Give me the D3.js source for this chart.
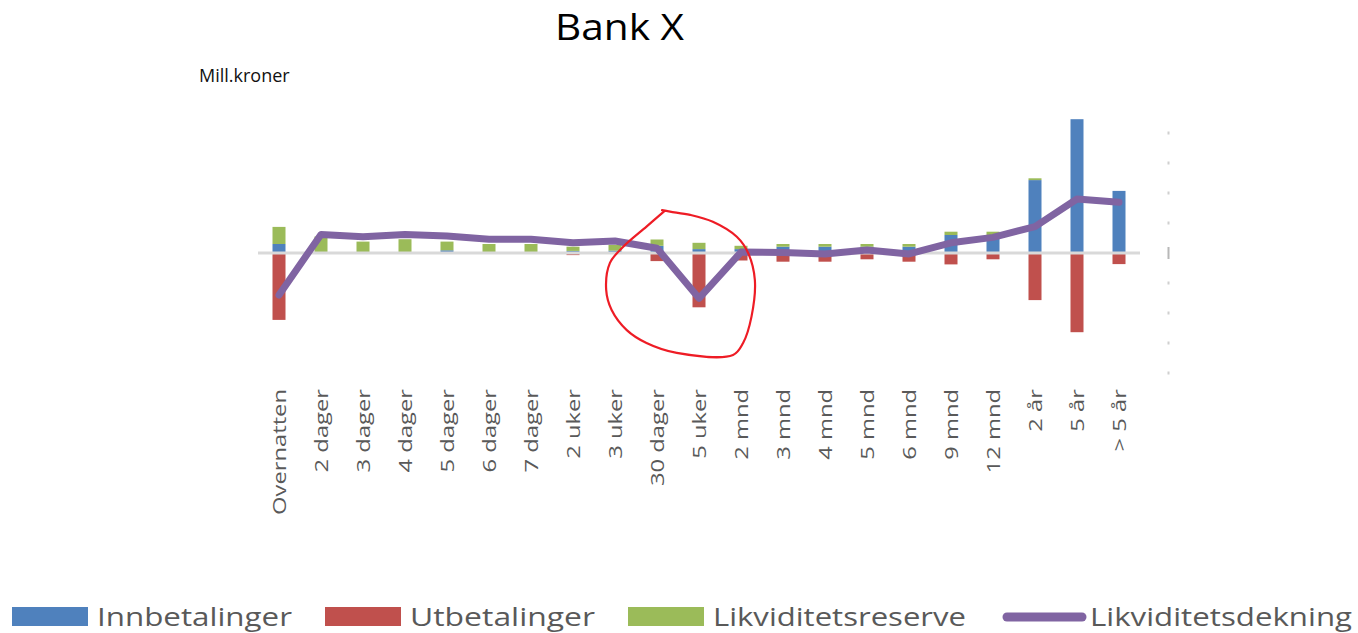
<!DOCTYPE html>
<html>
<head>
<meta charset="utf-8">
<script src="https://cdn.jsdelivr.net/npm/d3@7"></script>
<style>
  body { margin: 0; background: #fff; }
  svg { display: block; font-family: "Open Sans", sans-serif; }
</style>
</head>
<body>
<script>
const W = 1358, H = 633

// data (Mill.kroner)
const categories = ["Overnatten", "2 dager", "3 dager", "4 dager", "5 dager", "6 dager", "7 dager",
  "2 uker", "3 uker", "30 dager", "5 uker", "2 mnd", "3 mnd", "4 mnd", "5 mnd", "6 mnd",
  "9 mnd", "12 mnd", "2 år", "5 år", "> 5 år"]
const innbetalinger = [30, 0, 0, 0, 9, 0, 0, 7, 8, 24, 13, 13, 21, 21, 21, 21, 60, 60, 243, 446, 207]
const utbetalinger = [-223, 0, 0, 0, 0, 0, 0, -7, 0, -27, -181, -25, -29, -29, -21, -29, -38, -21, -157, -264, -37]
const likviditetsreserve = [57, 55, 38, 46, 29, 30, 30, 14, 19, 21, 21, 11, 9, 9, 9, 9, 11, 11, 6, 0, 0]
const likviditetsdekning = [-140, 62, 54, 62, 57, 46, 46, 34, 40, 16, -151, 3, 2, -3, 10, -3, 34, 52, 88, 180, 169]
const yTicks = [-400, -300, -200, -100, 0, 100, 200, 300, 400]

const seriesNames = ["Innbetalinger", "Utbetalinger", "Likviditetsreserve", "Likviditetsdekning"]
const colors = ["#4F81BD", "#C0504D", "#9BBB59", "#8064A2"]

// hand drawn red circle, in [category index, value]
const circleMark = [[9.19, 141], [8.75, 88], [8.19, 20], [7.88, -33], [7.79, -123], [7.92, -190],
  [8.28, -257], [8.75, -300], [9.47, -333], [10.81, -340], [11.05, -300], [11.25, -212],
  [11.33, -90], [11.17, 0], [10.9, 54], [10.33, 104], [9.79, 127], [9.31, 138], [9.12, 143]]

const svg = d3.select("body").append("svg")
  .attr("width", W)
  .attr("height", H)

const x = d3.scalePoint()
  .domain(categories)
  .range([258, 1140])
  .padding(0.5)

const xIdx = i => x(categories[0]) + i * x.step()

const y = d3.scaleLinear()
  .domain([-400, 400])
  .range([373, 133])

const barW = 13

// title
svg.append("text")
  .attr("x", 619.5).attr("y", 40)
  .attr("text-anchor", "middle")
  .attr("font-size", 37)
  .attr("textLength", 129)
  .attr("lengthAdjust", "spacingAndGlyphs")
  .attr("fill", "#000")
  .text("Bank X")

svg.append("text")
  .attr("x", 199).attr("y", 81.5)
  .attr("font-size", 18)
  .attr("fill", "#111")
  .text("Mill.kroner")

// right axis stubs (labels are cut away in the original)
svg.append("g").selectAll("rect")
  .data(yTicks)
  .enter().append("rect")
  .attr("x", 1167.5)
  .attr("y", d => y(d) - (d === 0 ? 6 : 1.5))
  .attr("width", 2)
  .attr("height", d => d === 0 ? 12 : 3)
  .attr("fill", d => d === 0 ? "#b8b8b8" : "#d0d0d0")

const bars = svg.append("g")

// blue, stacked from zero
bars.selectAll(".inn")
  .data(categories)
  .enter().append("rect")
  .attr("class", "inn")
  .attr("x", d => x(d) - barW / 2)
  .attr("width", barW)
  .attr("y", (d, i) => y(innbetalinger[i]))
  .attr("height", (d, i) => y(0) - y(innbetalinger[i]))
  .attr("fill", colors[0])

// green on top of blue
bars.selectAll(".res")
  .data(categories)
  .enter().append("rect")
  .attr("class", "res")
  .attr("x", d => x(d) - barW / 2)
  .attr("width", barW)
  .attr("y", (d, i) => y(innbetalinger[i] + likviditetsreserve[i]))
  .attr("height", (d, i) => y(innbetalinger[i]) - y(innbetalinger[i] + likviditetsreserve[i]))
  .attr("fill", colors[2])

// red, below zero
bars.selectAll(".ut")
  .data(categories)
  .enter().append("rect")
  .attr("class", "ut")
  .attr("x", d => x(d) - barW / 2)
  .attr("width", barW)
  .attr("y", y(0))
  .attr("height", (d, i) => y(utbetalinger[i]) - y(0))
  .attr("fill", colors[1])

// zero line
svg.append("line")
  .attr("x1", 258).attr("x2", 1140)
  .attr("y1", y(0)).attr("y2", y(0))
  .attr("stroke", "#d9d9d9")
  .attr("stroke-width", 3)

const line = d3.line()
  .x((d, i) => x(categories[i]))
  .y(d => y(d))

svg.append("path")
  .datum(likviditetsdekning)
  .attr("d", line)
  .attr("fill", "none")
  .attr("stroke", colors[3])
  .attr("stroke-width", 7)
  .attr("stroke-linejoin", "round")
  .attr("stroke-linecap", "round")

// category labels
svg.append("g").selectAll("text")
  .data(categories)
  .enter().append("text")
  .attr("transform", d => `translate(${x(d)},389) rotate(-90) scale(1.25,1)`)
  .attr("text-anchor", "end")
  .attr("dy", "0.36em")
  .attr("font-size", 19)
  .attr("fill", "#595959")
  .text(d => d)

// the red annotation
svg.append("path")
  .datum(circleMark)
  .attr("d", d3.line().x(d => xIdx(d[0])).y(d => y(d[1])).curve(d3.curveCatmullRom))
  .attr("fill", "none")
  .attr("stroke", "#ee1c25")
  .attr("stroke-width", 2.2)
  .attr("stroke-linecap", "round")

// legend
const legendX = [12, 325, 628, 1002]
const legendLen = [195, 185, 253, 262]
const legend = svg.append("g")

seriesNames.forEach((name, i) => {
  if (i < 3) {
    legend.append("rect")
      .attr("x", legendX[i]).attr("y", 607)
      .attr("width", 76).attr("height", 19)
      .attr("fill", colors[i])
  } else {
    legend.append("line")
      .attr("x1", legendX[i] + 5).attr("x2", legendX[i] + 80)
      .attr("y1", 617).attr("y2", 617)
      .attr("stroke", colors[i])
      .attr("stroke-width", 9)
      .attr("stroke-linecap", "round")
  }
  legend.append("text")
    .attr("x", legendX[i] + (i < 3 ? 85 : 88))
    .attr("y", 625.5)
    .attr("font-size", 25.5)
    .attr("textLength", legendLen[i])
    .attr("lengthAdjust", "spacingAndGlyphs")
    .attr("fill", "#595959")
    .text(name)
})
</script>
</body>
</html>
